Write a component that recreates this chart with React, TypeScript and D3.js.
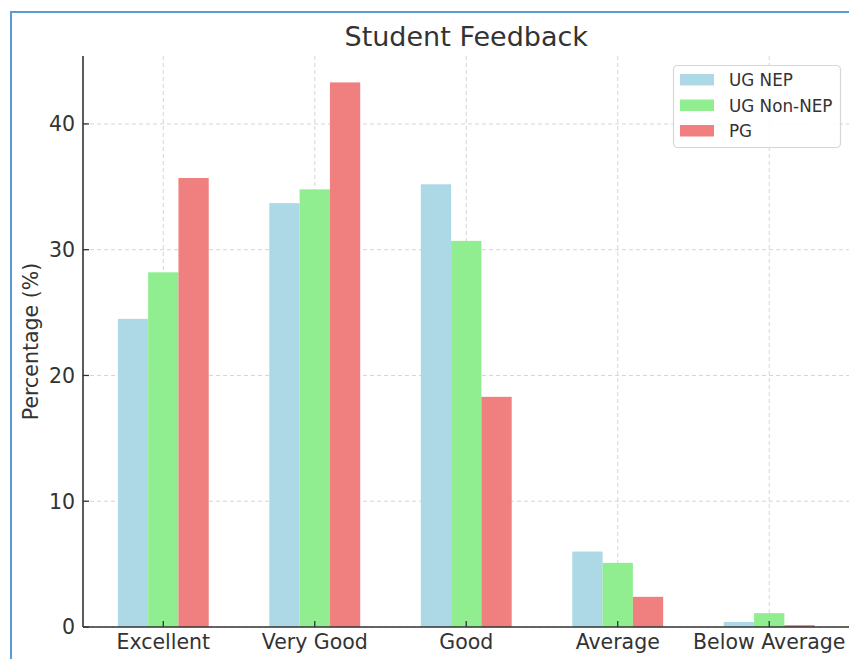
import React from "react";
import * as d3 from "d3";

const categories = ["Excellent", "Very Good", "Good", "Average", "Below Average"];
const seriesNames = ["UG NEP", "UG Non-NEP", "PG"];
const ugNep = [24.5, 33.7, 35.2, 6.0, 0.4];
const ugNonNep = [28.2, 34.8, 30.7, 5.1, 1.1];
const pg = [35.7, 43.3, 18.3, 2.4, 0.15];
const colors = ["#add8e6", "#90ee90", "#f08080"];
const yTicks = [0, 10, 20, 30, 40];

const W = 849;
const H = 659;
const FONT = "DejaVu Sans, sans-serif";
const TXT = "#333";

export default function App() {
  const left = 83;
  const right = 849.5;
  const top = 56;
  const bottom = 627;
  const series = [ugNep, ugNonNep, pg];
  const barW = 0.2;
  const x = d3.scaleLinear().domain([-0.53, 4.53]).range([left, right]);
  const y = d3.scaleLinear().domain([0, 45.4]).range([bottom, top]);
  const pxW = x(barW) - x(0);

  return (
    <svg
      width={W}
      height={H}
      style={{ position: "absolute", left: 0, top: 0, background: "#fff" }}
      fontFamily={FONT}
    >
      <rect x={0} y={0} width={W} height={H} fill="#fff" />
      {/* border */}
      <line x1={10} y1={12} x2={W} y2={12} stroke="#5b9bd5" strokeWidth={2} />
      <line x1={11} y1={11} x2={11} y2={H} stroke="#5b9bd5" strokeWidth={2} />
      {/* grid */}
      {yTicks.map((t) => (
        <line key={"gy" + t} x1={left} x2={right} y1={y(t)} y2={y(t)} stroke="#d0d0d0" strokeWidth={0.9} strokeDasharray="4,3" />
      ))}
      {categories.map((c, i) => (
        <line key={"gx" + c} x1={x(i)} x2={x(i)} y1={top} y2={bottom} stroke="#d0d0d0" strokeWidth={0.9} strokeDasharray="4,3" />
      ))}
      {/* bars */}
      {series.map((vals, s) =>
        vals.map((v, i) => (
          <rect
            key={s + "-" + i}
            x={x(i + (s - 1) * barW - barW / 2)}
            y={y(v)}
            width={pxW}
            height={y(0) - y(v)}
            fill={colors[s]}
          />
        ))
      )}
      {/* spines */}
      <line x1={left} x2={left} y1={top} y2={bottom} stroke="#333" strokeWidth={1.6} />
      <line x1={left} x2={right} y1={bottom} y2={bottom} stroke="#333" strokeWidth={1.6} />
      {/* y ticks */}
      {yTicks.map((t) => (
        <g key={"ty" + t}>
          <line x1={left} x2={left + 6} y1={y(t)} y2={y(t)} stroke="#333" strokeWidth={1.3} />
          <text x={left - 8} y={y(t)} dy="0.36em" textAnchor="end" fontSize={20.5} fill={TXT}>
            {t}
          </text>
        </g>
      ))}
      {/* x ticks */}
      {categories.map((c, i) => (
        <g key={"tx" + c}>
          <line x1={x(i)} x2={x(i)} y1={bottom} y2={bottom - 6} stroke="#333" strokeWidth={1.3} />
          <text x={x(i)} y={bottom + 22} textAnchor="middle" fontSize={20.5} fill={TXT}>
            {c}
          </text>
        </g>
      ))}
      {/* y label */}
      <text transform={`translate(38,${(top + bottom) / 2}) rotate(-90)`} textAnchor="middle" fontSize={20.5} fill={TXT}>
        Percentage (%)
      </text>
      {/* title */}
      <text x={(left + right) / 2} y={46} textAnchor="middle" fontSize={27} fill={TXT}>
        Student Feedback
      </text>
      {/* legend */}
      <rect x={673.5} y={65.5} width={167} height={82} rx={4} fill="#fff" fillOpacity={0.85} stroke="#d6d6d6" strokeWidth={1.2} />
      {seriesNames.map((n, s) => (
        <g key={n}>
          <rect x={680} y={74 + s * 25.5} width={34} height={11.5} fill={colors[s]} />
          <text x={729} y={80 + s * 25.5} dy="0.36em" fontSize={16.8} fill={TXT}>
            {n}
          </text>
        </g>
      ))}
    </svg>
  );
}
